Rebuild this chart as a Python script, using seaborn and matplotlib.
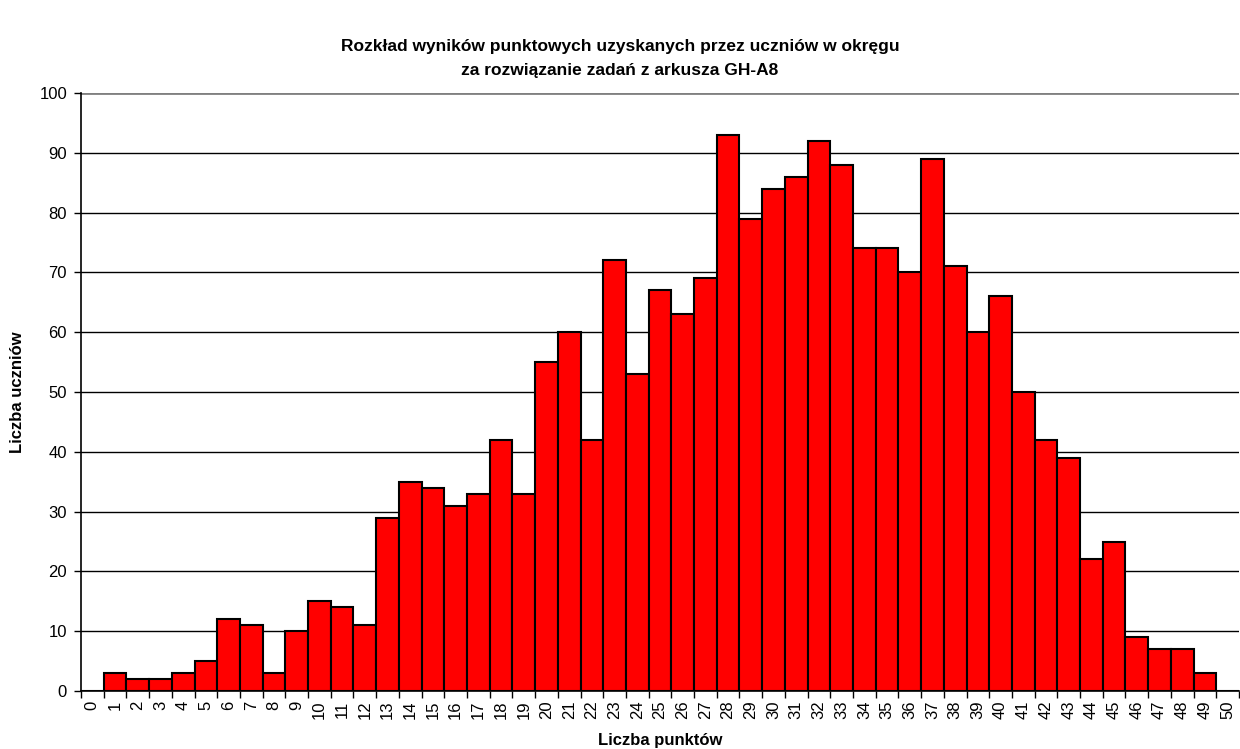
import numpy as np
import pandas as pd
import seaborn as sns
import matplotlib.pyplot as plt

# punkty 0..50 i liczba uczniow
punkty = list(range(0, 51))
liczba = [0, 3, 2, 2, 3, 5, 12, 11, 3, 10,
          15, 14, 11, 29, 35, 34, 31, 33, 42, 33,
          55, 60, 42, 72, 53, 67, 63, 69, 93, 79,
          84, 86, 92, 88, 74, 74, 70, 89, 71, 60,
          66, 50, 42, 39, 22, 25, 9, 7, 7, 3,
          0]
y_ticks = list(range(0, 101, 10))

df = pd.DataFrame({'punkty': [str(p) for p in punkty], 'liczba': liczba})

sns.set_style('white')
plt.rcParams['font.family'] = ['Liberation Sans', 'DejaVu Sans']
plt.rcParams['text.color'] = 'black'
plt.rcParams['axes.labelcolor'] = 'black'
plt.rcParams['xtick.color'] = 'black'
plt.rcParams['ytick.color'] = 'black'

fig = plt.figure(figsize=(12.4, 7.49), dpi=100)
ax = fig.add_axes([81 / 1240, 1 - 691 / 749, 1158 / 1240, 598 / 749])

sns.barplot(data=df, x='punkty', y='liczba', color='#ff0000',
            width=1.0, edgecolor='black', linewidth=1.5, saturation=1,
            ax=ax, zorder=3)

ax.set_xlim(-0.5, 50.5)
ax.set_ylim(0, 100)
ax.set_yticks(y_ticks)
ax.yaxis.grid(True, color='black', linewidth=1)
ax.set_axisbelow(True)
for gl in ax.get_ygridlines()[-1:]:
    gl.set_color('#808080')
    gl.set_linewidth(2)

# ticki na granicach kategorii, etykiety w srodku
ax.set_xticks(np.arange(-0.5, 51, 1), minor=True)
ax.tick_params(axis='x', which='major', length=0, labelsize=12, rotation=90, pad=7)
ax.tick_params(axis='x', which='minor', length=5, width=1, direction='out', color='black', bottom=True)
ax.tick_params(axis='y', length=5, width=1, direction='out', color='black', left=True, labelsize=12, pad=5)

for s in ['top', 'right']:
    ax.spines[s].set_visible(False)
ax.spines['left'].set_color('black')
ax.spines['bottom'].set_color('black')
ax.spines['left'].set_linewidth(1.2)
ax.spines['bottom'].set_linewidth(1.2)

ax.set_xlabel('Liczba punktów', fontsize=12, fontweight='bold', labelpad=10)
ax.set_ylabel('Liczba uczniów', fontsize=12, fontweight='bold', labelpad=10)

fig.text(0.5, 1 - 47 / 749, 'Rozkład wyników punktowych uzyskanych przez uczniów w okręgu',
         ha='center', va='center', fontsize=12.5, fontweight='bold')
fig.text(0.5, 1 - 70 / 749, 'za rozwiązanie zadań z arkusza GH-A8',
         ha='center', va='center', fontsize=12.5, fontweight='bold')

plt.savefig('out.png', dpi=100)
